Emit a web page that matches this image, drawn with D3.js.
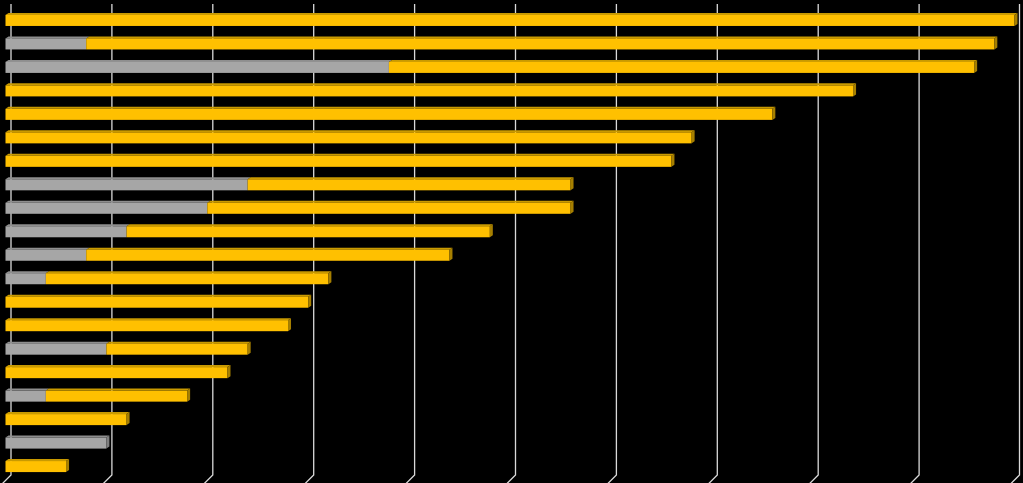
<!DOCTYPE html>
<html>
<head>
<meta charset="utf-8">
<script src="https://cdn.jsdelivr.net/npm/d3@7"></script>
<style>
  html, body { margin: 0; padding: 0; background: #000; }
  svg { display: block; }
</style>
</head>
<body>
<div id="chart"></div>
<script>
// data (top bar first)
const categories = ["A1","A2","A3","A4","A5","A6","A7","A8","A9","A10",
                    "A11","A12","A13","A14","A15","A16","A17","A18","A19","A20"];
const grayValues   = [0, 4, 19, 0, 0, 0, 0, 12, 10, 6, 4, 2, 0, 0, 5, 0, 2, 0, 5, 0];
const yellowValues = [50, 45, 29, 42, 38, 34, 33, 16, 18, 18, 18, 14, 15, 14, 7, 11, 7, 6, 0, 3];
const tickValues = [0, 5, 10, 15, 20, 25, 30, 35, 40, 45, 50];

const width = 1023, height = 483;
const depthX = 5.5;   // back wall offset
const sideX = 3, sideY = 2; // bar 3d faces

const svg = d3.select("#chart").append("svg")
    .attr("width", width)
    .attr("height", height);

svg.append("rect")
    .attr("width", width)
    .attr("height", height)
    .attr("fill", "#000");

const x = d3.scaleLinear()
    .domain([0, 50])
    .range([5.5, 5.5 + 1009]);

const y = d3.scaleBand()
    .domain(categories)
    .range([8.7, 478.3])
    .paddingInner(0.53)
    .paddingOuter(0.265);

// grid lines on back wall + floor
const grid = svg.append("g")
    .attr("stroke", "#d9d9d9")
    .attr("stroke-width", 1.3)
    .attr("fill", "none");

grid.selectAll("path")
  .data(tickValues)
  .join("path")
    .attr("d", d => {
        const bx = Math.min(x(d) + depthX, 1019.5);
        return `M${bx},4 L${bx},475 L${bx - 9},484`;
    });

// stack the two series
const rows = categories.map((c, i) => ({
    cat: c,
    segs: [
        { x0: 0, x1: grayValues[i], front: "#a6a6a6", top: "#8e8e8e", side: "#7f7f7f" },
        { x0: grayValues[i], x1: grayValues[i] + yellowValues[i], front: "#ffc000", top: "#c99a00", side: "#a67f00" }
    ].filter(s => s.x1 > s.x0)
}));

const bar = svg.append("g")
  .selectAll("g")
  .data(rows)
  .join("g");

bar.each(function(r) {
    const g = d3.select(this);
    const top = y(r.cat), bh = y.bandwidth(), bot = top + bh;
    r.segs.forEach((s, j) => {
        const a = x(s.x0), b = x(s.x1);
        // top face
        g.append("path")
            .attr("d", `M${a},${top} L${a + sideX},${top - sideY} L${b + sideX},${top - sideY} L${b},${top} Z`)
            .attr("fill", s.top);
        // front face
        g.append("rect")
            .attr("x", a)
            .attr("y", top)
            .attr("width", b - a)
            .attr("height", bh)
            .attr("fill", s.front);
        // side face only at end of last segment
        if (j === r.segs.length - 1) {
            g.append("path")
                .attr("d", `M${b},${top} L${b + sideX},${top - sideY} L${b + sideX},${bot - sideY} L${b},${bot} Z`)
                .attr("fill", s.side);
        }
    });
});
</script>
</body>
</html>
